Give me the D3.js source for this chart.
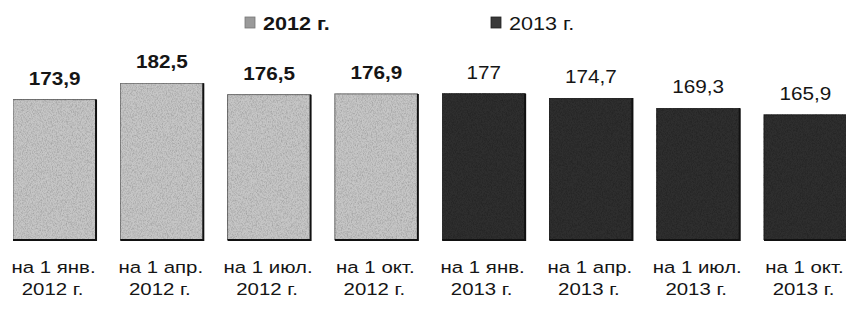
<!DOCTYPE html>
<html>
<head>
<meta charset="utf-8">
<script src="https://cdn.jsdelivr.net/npm/d3@7"></script>
<style>
  html, body { margin: 0; padding: 0; background: #fff; }
  svg { display: block; }
  text { font-family: Arial, "Liberation Sans", sans-serif; fill: #151515; }
</style>
</head>
<body>
<svg id="chart" width="846" height="311"></svg>
<script>
const categoriesLine1 = ["на 1 янв.", "на 1 апр.", "на 1 июл.", "на 1 окт.", "на 1 янв.", "на 1 апр.", "на 1 июл.", "на 1 окт."];
const categoriesLine2 = ["2012 г.", "2012 г.", "2012 г.", "2012 г.", "2013 г.", "2013 г.", "2013 г.", "2013 г."];
const values = [173.9, 182.5, 176.5, 176.9, 177, 174.7, 169.3, 165.9];
const valueLabels = ["173,9", "182,5", "176,5", "176,9", "177", "174,7", "169,3", "165,9"];
const seriesOf = [0, 0, 0, 0, 1, 1, 1, 1];
const seriesNames = ["2012 г.", "2013 г."];

const svg = d3.select("#chart");
const fills = ["#c6c6c6", "#2e2e2e"];

const x = d3.scaleBand().domain(d3.range(values.length)).range([13, 847]).paddingInner(0.226).paddingOuter(0);
const y = d3.scaleLinear().domain([100, 200]).range([240, 50]);

// grain texture
const defs = svg.append("defs");
const f = defs.append("filter").attr("id", "grain").attr("x", 0).attr("y", 0).attr("width", 1).attr("height", 1);
f.append("feTurbulence").attr("type", "fractalNoise").attr("baseFrequency", "1.2 0.6").attr("numOctaves", 2).attr("seed", 3).attr("result", "noise");
f.append("feColorMatrix").attr("in", "noise").attr("type", "matrix")
  .attr("values", "0 0 0 0 0.55  0 0 0 0 0.55  0 0 0 0 0.55  0 0 0 1.6 -0.6").attr("result", "n2");
f.append("feComposite").attr("in", "n2").attr("in2", "SourceGraphic").attr("operator", "in").attr("result", "n3");
f.append("feBlend").attr("in", "n3").attr("in2", "SourceGraphic").attr("mode", "multiply");

const bars = svg.append("g").selectAll("g").data(values).join("g");
bars.append("rect")
  .attr("x", (d, i) => x(i))
  .attr("y", d => y(d))
  .attr("width", x.bandwidth())
  .attr("height", d => y(100) - y(d))
  .attr("fill", (d, i) => fills[seriesOf[i]])
  .attr("stroke", (d, i) => seriesOf[i] ? "#1a1a1a" : "#6a6a6a")
  .attr("stroke-width", 1)
  .attr("filter", "url(#grain)");
bars.append("path")
  .attr("d", (d, i) => `M${x(i) + x.bandwidth()},${y(d)} V${y(100)} H${x(i)}`)
  .attr("fill", "none")
  .attr("stroke", "#111")
  .attr("stroke-width", 2);

// value labels
svg.append("g").selectAll("text").data(values).join("text")
  .attr("transform", (d, i) => `translate(${x(i) + x.bandwidth() / 2},${y(d) - 15}) scale(1.15,1)`)
  .attr("text-anchor", "middle")
  .attr("font-size", 18)
  .attr("font-weight", (d, i) => seriesOf[i] ? "normal" : "bold")
  .text((d, i) => valueLabels[i]);

// category labels
const cat = svg.append("g").selectAll("g").data(values).join("g");
cat.append("text")
  .attr("transform", (d, i) => `translate(${x(i) + x.bandwidth() / 2 - 1},273) scale(1.2,1)`)
  .attr("text-anchor", "middle")
  .attr("font-size", 17)
  .text((d, i) => categoriesLine1[i]);
cat.append("text")
  .attr("transform", (d, i) => `translate(${x(i) + x.bandwidth() / 2 - 2},295) scale(1.2,1)`)
  .attr("text-anchor", "middle")
  .attr("font-size", 17)
  .text((d, i) => categoriesLine2[i]);

// legend
const legendX = [245, 491];
const lg = svg.append("g").selectAll("g").data(seriesNames).join("g");
lg.append("rect")
  .attr("x", (d, i) => legendX[i])
  .attr("y", 17)
  .attr("width", 10)
  .attr("height", 11)
  .attr("fill", (d, i) => i ? "#3a3a3a" : "#9a9a9a")
  .attr("stroke", (d, i) => i ? "#222" : "#777")
  .attr("stroke-width", 0.8);
lg.append("text")
  .attr("transform", (d, i) => `translate(${legendX[i] + 18},30) scale(1.2,1)`)
  .attr("font-size", 18)
  .attr("font-weight", (d, i) => i ? "normal" : "bold")
  .text(d => d);
</script>
</body>
</html>
